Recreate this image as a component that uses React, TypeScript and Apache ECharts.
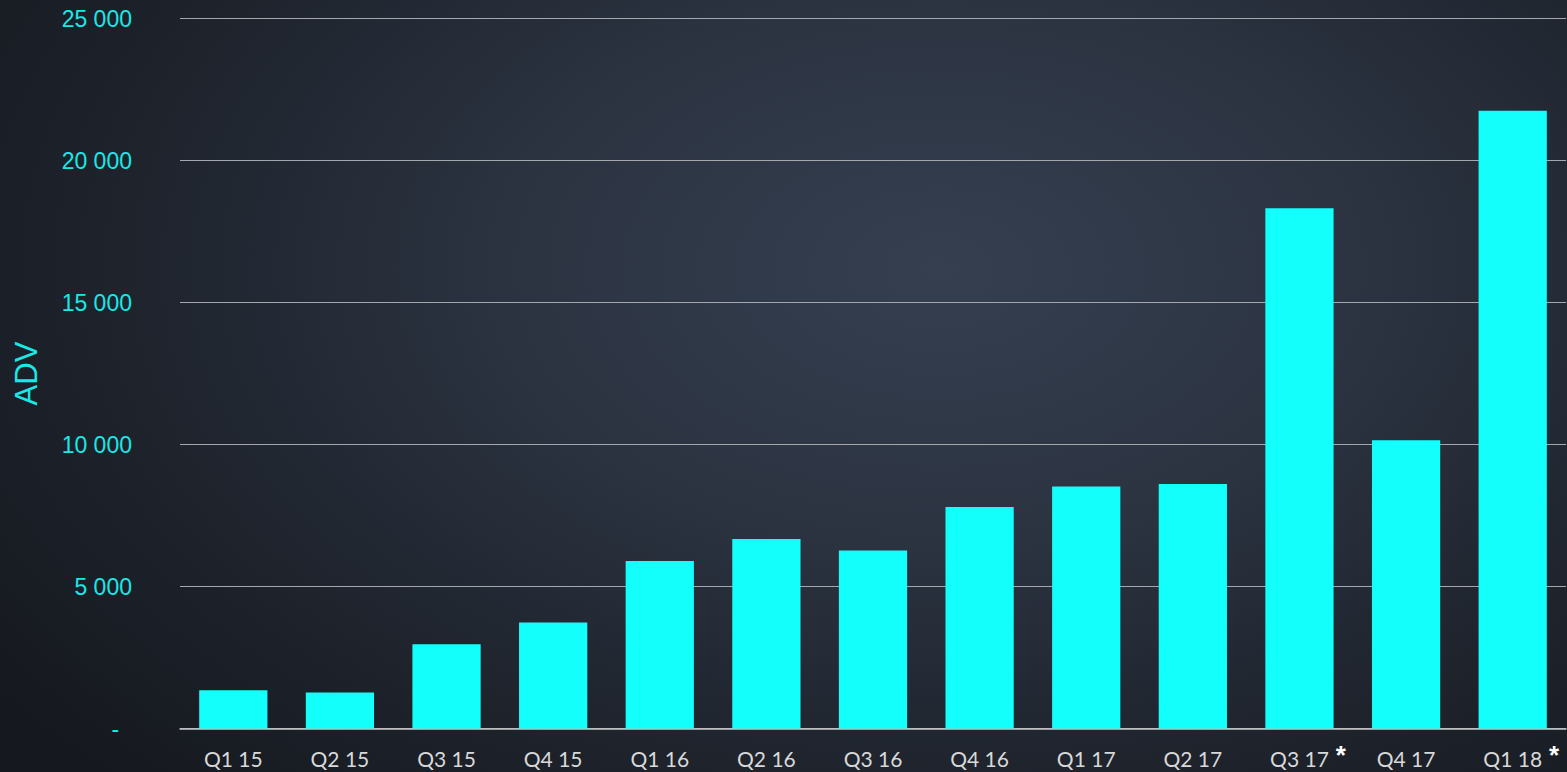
import React, { useEffect, useRef } from "react";
import * as echarts from "echarts";

const categories = ["Q1 15", "Q2 15", "Q3 15", "Q4 15", "Q1 16", "Q2 16", "Q3 16", "Q4 16", "Q1 17", "Q2 17", "Q3 17", "Q4 17", "Q1 18"];
const adv = [1350, 1270, 2970, 3730, 5900, 6670, 6270, 7800, 8520, 8610, 18320, 10150, 21750];
const starred = ["Q3 17", "Q1 18"];
const yTicks = [0, 5000, 10000, 15000, 20000, 25000];

const fmt = (v: number) => (v === 0 ? "-  " : String(v).replace(/\B(?=(\d{3})+(?!\d))/g, " "));

const starStyle = { fontFamily: "Liberation Sans", fontSize: 26, fontWeight: "bold", lineHeight: 30 };

export default function App() {
  const ref = useRef<HTMLDivElement>(null);
  useEffect(() => {
    if (!ref.current) return;
    const chart = echarts.init(ref.current, null, { renderer: "svg" });
    chart.setOption({
      animation: false,
      backgroundColor: "transparent",
      grid: { left: 180, right: 1, top: 18.5, bottom: 43.5, containLabel: false, outerBoundsMode: "none" },
      xAxis: {
        type: "category",
        data: categories,
        axisLine: { lineStyle: { color: "#c4c6ca", width: 1.5 } },
        axisTick: { show: false },
        axisLabel: {
          interval: 0,
          margin: 15,
          color: "#d9d9d9",
          fontFamily: "Lato",
          fontSize: 21,
          formatter: (v: string) => `{hl|*}{t|${v}}` + (starred.includes(v) ? `{s|*}` : `{hr|*}`),
          rich: {
            t: { color: "#d9d9d9", fontFamily: "Lato", fontSize: 21, lineHeight: 24 },
            s: { ...starStyle, color: "#ffffff", padding: [0, 0, 8, 7] },
            hr: { ...starStyle, color: "transparent", padding: [0, 0, 8, 7] },
            hl: { ...starStyle, color: "transparent", padding: [0, 7, 8, 0] },
          },
        },
      },
      yAxis: {
        type: "value",
        min: yTicks[0],
        max: yTicks[yTicks.length - 1],
        interval: 5000,
        name: "ADV",
        nameLocation: "middle",
        nameRotate: 90,
        nameGap: 138,
        nameTextStyle: { color: "#1ae8e6", fontFamily: "Liberation Sans", fontSize: 31 },
        axisLine: { show: false },
        axisTick: { show: false },
        splitLine: { lineStyle: { color: "#a4a7ad", width: 1 } },
        axisLabel: {
          margin: 48,
          color: "#1ae8e6",
          fontFamily: "Liberation Sans",
          fontSize: 23,
          formatter: fmt,
        },
      },
      series: [
        {
          type: "bar",
          data: adv,
          barCategoryGap: "36%",
          itemStyle: { color: "#13fffc" },
        },
      ],
    });
    return () => chart.dispose();
  }, []);
  return (
    <div
      ref={ref}
      style={{
        position: "absolute",
        left: 0,
        top: 0,
        width: 1567,
        height: 772,
        background:
          "radial-gradient(ellipse 75% 95% at 60% 35%, #353f50 0%, #2c3442 35%, #1e232c 70%, #15181e 100%)",
      }}
    />
  );
}
